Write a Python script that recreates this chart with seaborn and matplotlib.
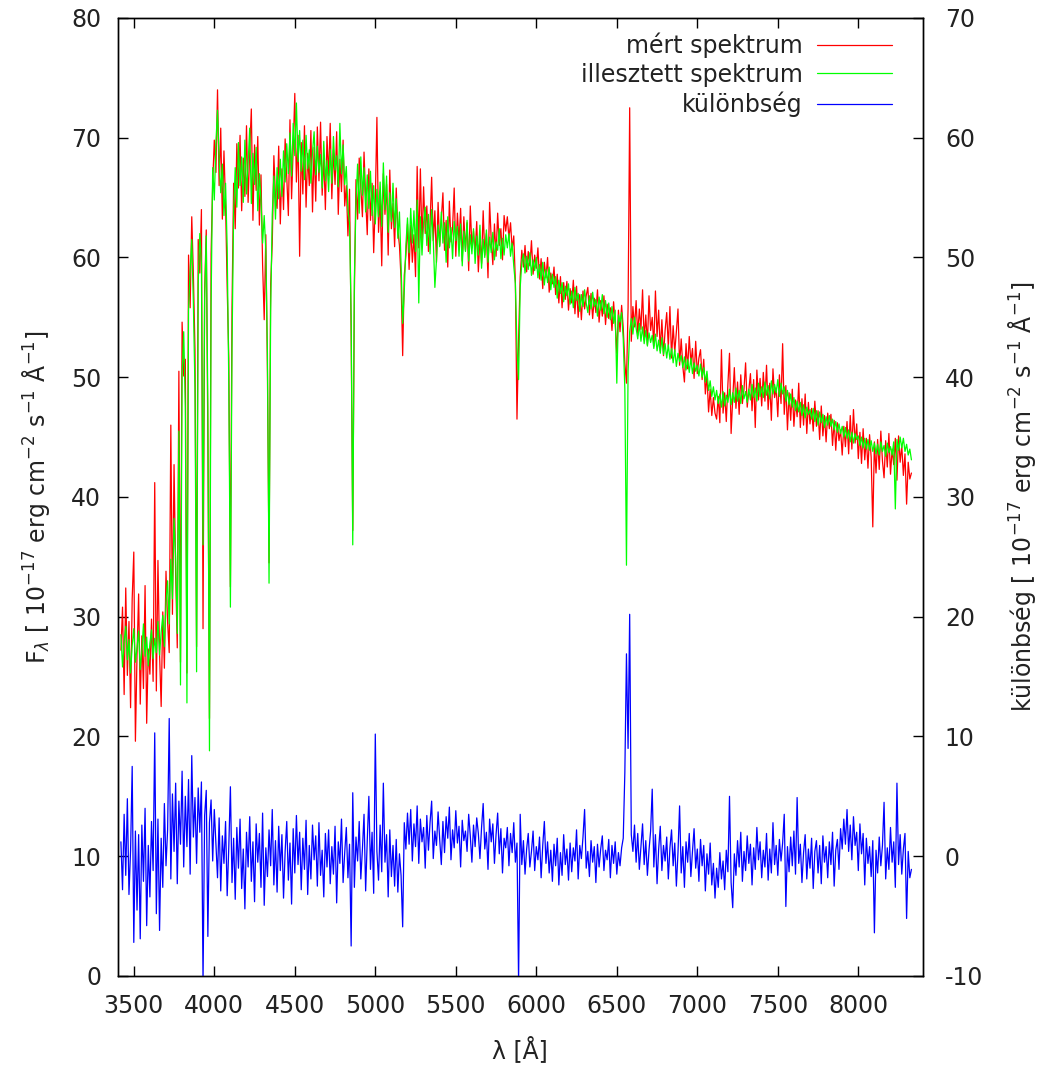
import numpy as np
import matplotlib
matplotlib.use("Agg")
import matplotlib.pyplot as plt
import seaborn as sns

# wavelength grid of the spectrum [A], 10 A sampling, 3420 ... 8330
wavelength = np.arange(3420, 8331, 10)

# measured spectrum (red), 10 values per row, row k starts at 3420 + 100*k
measured = [
    27.2, 30.8, 23.5, 32.4, 25.1, 29.6, 22.4, 31.5, 35.4, 19.6,
    26.8, 31.9, 22.7, 28.4, 24.0, 32.6, 21.1, 27.3, 25.2, 29.8,
    24.6, 41.2, 23.8, 34.7, 26.9, 22.5, 30.4, 25.7, 33.8, 29.5,
    27.0, 46.0, 30.2, 42.7, 33.5, 27.4, 50.5, 26.2, 54.6, 50.1,
    51.5, 25.3, 60.2, 55.8, 63.4, 58.6, 52.3, 27.5, 61.5, 58.7,
    64.0, 29.0, 57.2, 62.3, 44.8, 21.5, 60.3, 66.2, 69.8, 67.1,
    74.0, 66.0, 70.8, 63.2, 68.9, 64.4, 57.5, 51.6, 32.5, 55.8,
    66.2, 62.4, 69.5, 65.8, 70.2, 63.9, 68.3, 65.1, 71.0, 64.6,
    68.9, 72.4, 63.1, 69.4, 65.6, 70.1, 62.7, 66.9, 59.4, 54.8,
    61.9, 50.4, 34.5, 57.8, 61.2, 68.5, 65.0, 64.1, 69.3, 62.8,
    67.4, 64.0, 69.9, 66.7, 63.5, 71.5, 64.9, 69.1, 73.7, 66.3,
    70.2, 60.1, 69.6, 65.3, 71.0, 64.2, 68.7, 66.0, 70.6, 63.8,
    69.2, 64.7, 70.9, 66.4, 71.3, 65.2, 68.4, 64.0, 70.1, 66.8,
    71.2, 64.9, 69.0, 66.1, 70.5, 63.6, 68.2, 65.5, 69.8, 64.3,
    66.0, 61.8, 65.7, 53.6, 37.2, 57.0, 66.5, 63.2, 68.3, 65.9,
    63.4, 68.8, 65.0, 61.9, 67.4, 63.1, 66.2, 60.4, 64.7, 71.7,
    62.1, 65.2, 59.3, 67.0, 63.6, 66.1, 60.2, 67.3, 62.4, 64.5,
    60.9, 65.8, 62.3, 61.0, 58.2, 51.8, 58.5, 60.2, 62.8, 59.0,
    62.7, 59.6, 61.9, 58.4, 67.6, 60.8, 67.4, 61.1, 65.9, 62.0,
    64.3, 60.5, 62.8, 66.7, 61.4, 63.9, 59.6, 64.6, 61.0, 63.2,
    65.4, 60.6, 63.1, 59.2, 64.7, 61.3, 62.5, 65.8, 60.1, 63.7,
    61.2, 64.1, 59.7, 63.4, 60.6, 62.9, 58.9, 64.3, 60.8, 62.2,
    60.4, 63.0, 58.8, 61.7, 59.5, 63.9, 60.2, 62.0, 58.3, 64.6,
    61.5, 59.4, 62.8, 60.1, 63.7, 61.0, 62.4, 59.8, 63.5, 62.2,
    63.4, 61.6, 62.9, 60.7, 61.8, 58.0, 46.5, 53.2, 58.4, 60.6,
    59.2, 61.0, 58.8, 60.5, 59.3, 61.4, 58.6, 60.2, 59.1, 60.8,
    58.2, 59.9, 57.4, 59.6, 58.3, 60.0, 57.1, 58.7, 57.8, 59.2,
    56.9, 58.6, 56.2, 58.4, 55.8, 57.9, 56.5, 58.0, 55.6, 57.4,
    56.2, 58.1, 55.3, 57.6, 55.0, 56.9, 54.8, 57.2, 55.7, 56.8,
    57.5, 55.2, 57.0, 54.9, 56.6, 55.4, 57.3, 54.6, 56.4, 55.1,
    56.8, 54.4, 56.1, 54.9, 55.8, 53.9, 56.3, 54.5, 52.0, 55.6,
    53.8, 56.0, 54.1, 51.2, 49.5, 55.8, 72.5, 53.0, 55.9, 54.2,
    56.4, 53.5, 55.7, 54.0, 57.3, 53.1, 55.2, 52.7, 56.8, 53.9,
    55.0, 52.6, 57.2, 53.4, 55.6, 52.2, 54.8, 51.8, 53.9, 55.4,
    52.5, 55.9, 51.6, 54.3, 52.1, 53.8, 55.7, 51.0, 53.2, 50.9,
    49.6, 52.8, 50.7, 53.4, 51.2, 52.4, 49.9, 53.0, 50.3, 51.6,
    52.3, 49.8, 51.5, 48.6, 50.2, 47.1, 49.0, 46.8, 48.3, 47.0,
    46.5, 48.4, 46.2, 52.3, 47.0, 48.7, 46.3, 49.4, 52.0, 45.3,
    48.2, 50.8, 47.4, 49.6, 46.9, 50.2, 47.8, 49.0, 51.2, 47.5,
    48.9, 50.3, 47.2, 49.8, 45.8, 50.6, 48.1, 49.9, 47.6, 50.4,
    48.0, 51.0, 47.3, 49.5, 46.4, 50.7, 48.3, 49.1, 46.7, 50.2,
    47.8, 52.8, 46.9, 49.3, 45.6, 48.7, 46.4, 49.0, 45.9, 48.1,
    46.7, 49.5, 45.8, 48.2, 46.0, 48.6, 45.3, 47.9, 46.1, 47.4,
    45.5, 48.0, 45.9, 47.2, 44.8, 47.6, 45.1, 46.8, 44.6, 47.0,
    45.7, 46.9, 44.3, 46.4, 43.9, 46.2, 44.7, 45.6, 43.5, 45.9,
    44.2, 46.3, 43.6, 46.8, 44.0, 47.3, 44.5, 46.1, 43.2, 45.4,
    42.8, 45.7, 43.1, 44.9, 42.4, 45.2, 43.3, 37.5, 44.6, 42.0,
    44.8, 42.3, 45.5, 43.0, 41.6, 44.7, 42.5, 45.3, 41.9, 44.0,
    42.7, 44.9, 41.4, 45.1, 42.9, 44.3, 41.8, 43.6, 39.4, 42.9,
    41.5, 42.0,
]

# fitted model spectrum (green)
fitted = [
    28.5, 25.8, 27.9, 29.2, 26.4, 28.1, 25.3, 27.6, 29.0, 26.2,
    27.4, 28.8, 25.6, 27.1, 29.4, 26.7, 28.3, 25.9, 27.8, 28.9,
    26.5, 28.2, 27.0, 29.6, 26.8, 28.7, 30.1, 27.5, 31.2, 33.0,
    29.4, 34.8, 31.5, 38.2, 35.0, 28.6, 45.5, 24.3, 50.2, 53.8,
    47.5, 22.8, 55.6, 58.9, 61.5, 56.2, 49.0, 25.4, 57.8, 62.0,
    59.5, 36.0, 56.4, 61.8, 47.5, 18.8, 56.0, 67.5, 64.8, 69.6,
    72.3, 68.2, 65.4, 67.8, 63.5, 66.2, 60.8, 49.5, 30.8, 52.4,
    63.8, 67.5, 64.2, 69.6, 66.0, 68.4, 64.6, 69.8, 65.3, 67.9,
    70.8, 64.5, 68.7, 66.1, 69.2, 63.9, 67.0, 64.8, 61.2, 63.5,
    60.5, 52.0, 32.8, 55.5, 63.6, 66.8, 63.2, 67.5, 64.9, 68.2,
    65.1, 68.9, 66.3, 69.5, 67.0, 70.4, 66.8, 71.2, 68.5, 72.9,
    68.0, 70.6, 67.2, 69.8, 66.5, 70.2, 67.4, 69.0, 66.2, 68.8,
    70.5, 66.9, 69.3, 67.1, 68.6, 65.8, 69.7, 66.4, 68.1, 65.5,
    69.0, 66.2, 70.1, 67.3, 68.5, 65.9, 71.2, 67.0, 69.4, 66.1,
    67.6, 64.0, 62.9, 55.0, 36.0, 58.2, 64.6, 67.8, 63.7, 68.4,
    65.2, 67.5, 63.8, 66.9, 64.1, 67.2, 63.5, 66.0, 62.8, 65.7,
    63.4, 66.3, 62.6, 67.9, 64.0, 66.8, 62.1, 65.4, 63.0, 66.2,
    62.5, 64.9, 61.6, 63.8, 59.4, 54.5, 57.2, 61.0, 63.3, 60.4,
    64.1, 61.2, 63.9, 60.5, 64.8, 56.2, 63.4, 60.2, 62.9, 64.2,
    61.0, 63.6, 60.3, 64.0, 61.5, 57.5, 59.8, 62.7, 60.9, 63.8,
    61.2, 62.9, 59.6, 63.4, 60.8, 62.5, 59.9, 63.0, 61.4, 62.6,
    60.1, 62.8, 59.3, 62.2, 60.5, 63.1, 59.7, 61.9, 60.3, 62.4,
    59.5, 61.8, 60.2, 62.7, 59.1, 61.5, 60.0, 62.3, 59.6, 61.7,
    60.4, 62.1, 59.8, 61.3, 60.6, 62.4, 59.9, 61.6, 60.2, 61.9,
    60.8, 62.0, 60.1, 61.2, 59.3, 57.8, 52.5, 49.8, 57.5, 59.6,
    60.3, 58.7, 60.1, 59.0, 60.4, 58.5, 59.8, 58.9, 60.0, 58.3,
    59.4, 58.1, 59.6, 57.7, 59.0, 57.9, 59.2, 57.3, 58.6, 57.5,
    58.4, 56.6, 58.1, 57.0, 57.9, 56.3, 57.6, 56.8, 57.8, 56.1,
    57.2, 55.8, 57.5, 56.4, 57.0, 55.5, 56.9, 55.9, 57.3, 56.2,
    55.4, 56.8, 55.7, 57.1, 55.9, 56.5, 55.1, 56.7, 55.6, 56.9,
    55.3, 56.4, 55.0, 56.2, 54.8, 55.9, 54.5, 55.6, 49.5, 55.2,
    54.6, 55.4, 53.2, 49.0, 34.3, 50.5, 53.8, 54.9, 53.6, 55.0,
    54.1, 53.2, 54.5, 53.0, 54.2, 52.8, 53.9, 52.6, 53.7, 52.9,
    53.5, 52.4, 53.6, 52.2, 53.1, 52.0, 53.3, 51.9, 52.8, 51.6,
    52.7, 51.5, 52.4, 51.2, 52.3, 50.9, 52.0, 51.3, 51.8, 50.8,
    51.7, 50.6, 51.5, 50.4, 51.6, 50.3, 51.2, 50.5, 51.0, 50.1,
    51.1, 50.0, 50.8, 49.6, 50.5, 48.9, 49.7, 48.4, 49.2, 48.1,
    48.9, 47.8, 48.6, 47.5, 48.8, 47.6, 48.5, 47.9, 49.0, 47.7,
    48.7, 47.9, 49.1, 48.0, 48.9, 47.8, 49.3, 48.2, 48.8, 47.9,
    49.0, 48.1, 49.4, 48.3, 49.1, 48.0, 49.5, 48.4, 49.2, 48.3,
    49.6, 48.5, 49.3, 48.2, 49.7, 48.6, 49.4, 48.7, 49.8, 48.4,
    49.5, 48.6, 49.2, 48.0, 48.9, 47.7, 48.6, 47.5, 48.3, 47.2,
    48.0, 47.1, 47.9, 46.8, 47.7, 46.6, 47.5, 46.9, 47.3, 46.5,
    47.4, 46.3, 47.2, 46.0, 47.1, 46.2, 46.9, 45.8, 46.7, 46.0,
    46.8, 45.9, 46.5, 45.6, 46.3, 45.4, 46.1, 45.3, 45.9, 45.0,
    45.8, 44.9, 45.6, 44.6, 45.4, 44.5, 45.3, 44.8, 45.1, 44.3,
    45.0, 44.1, 44.9, 44.0, 44.8, 43.9, 44.7, 43.8, 44.5, 43.6,
    44.4, 43.5, 44.6, 43.8, 44.3, 43.4, 44.5, 43.7, 44.2, 43.5,
    44.6, 39.0, 44.8, 43.9, 45.0, 44.1, 44.9, 43.8, 44.4, 43.5,
    44.0, 43.1,
]

# difference (blue), right-hand axis
difference = [
    1.2, -2.8, 3.5, -1.6, 4.8, -3.2, 0.5, 7.5, -7.2, 2.1,
    -4.5, 1.8, -6.9, 2.6, -2.1, 4.0, -5.8, 0.9, -3.4, 2.9,
    -1.2, 10.3, -4.8, 3.1, -6.2, 1.5, -2.6, 4.4, -0.8, 2.2,
    11.5, -1.9, 5.2, 0.4, 6.1, -2.3, 4.6, 1.0, 7.1, -0.9,
    5.0, 0.8, 6.4, -1.5, 8.4, 1.6, 4.9, -0.6, 5.7, 2.0,
    6.2, -10.5, 3.4, 5.5, -6.7, 2.8, 4.7, -0.4, 3.9, 1.1,
    -1.8, 3.2, -2.9, 1.7, -0.6, 2.9, -3.3, 0.8, 5.8, -2.2,
    1.5, -3.6, 2.4, -1.0, 3.1, -2.7, 0.6, -4.4, 2.0, -0.9,
    3.3, -2.1, 1.2, -3.8, 2.7, -0.5, 1.9, -2.6, 3.6, -4.1,
    0.7, -1.7, 2.2, -0.8, 3.9, -2.4, 1.3, -3.0, 2.5, -1.2,
    1.8, -3.5, 0.4, 2.9, -2.0, 1.1, -4.0, 2.3, -1.4, 3.4,
    -0.7, 2.0, -2.8, 1.5, -1.1, 3.0, -3.2, 0.9, -1.9, 2.6,
    -0.3, 1.7, -2.5, 2.8, -1.6, 0.5, -3.4, 1.9, -0.9, 2.2,
    -2.3, 0.8, -1.5, 2.5, -3.9, 1.2, -0.6, 3.1, -2.2, 0.3,
    2.4, -1.8, 1.0, -7.5, 5.3, -2.6, 1.6, -0.4, 2.9, -1.9,
    0.6, 3.5, -2.9, 1.3, 5.0, -1.1, 2.0, -3.1, 10.2, 0.4,
    -2.0, 2.6, -1.3, 6.1, -0.5, 1.8, -3.4, 2.2, -1.7, 0.9,
    -2.5, 1.4, -3.0, 0.2, -1.6, -5.9, 2.8, 0.6, 3.6, 1.0,
    3.9, -0.4, 2.7, 0.8, 4.2, -0.6, 3.1, 1.2, 2.4, -1.0,
    3.4, 0.5, 2.8, 4.6, -0.2, 2.1, 0.9, 3.7, 1.4, -0.7,
    2.9, 0.3, 3.3, 1.5, 4.1, -0.3, 2.2, 0.7, 3.8, 1.1,
    2.5, -0.9, 3.0, 1.3, 2.1, 0.4, 3.5, 1.7, -0.5, 2.6,
    0.8, 3.2, 1.9, -0.2, 2.4, 4.4, 0.6, 2.0, -1.1, 3.1,
    1.2, 2.7, -0.6, 1.8, 3.6, 0.2, 2.3, -1.4, 1.5, 0.7,
    2.4, -0.8, 1.9, 0.3, 2.8, -0.5, 1.1, -10.5, 3.5, -0.7,
    1.3, -1.5, 0.6, 1.9, -0.9, 0.4, 2.1, -1.2, 0.8, -0.3,
    1.6, -1.8, 0.9, 2.9, -0.6, 1.2, -1.4, 0.5, -2.1, 1.0,
    -0.8, 1.5, -2.4, 0.3, -1.6, 1.8, -0.7, 0.6, -2.0, 1.1,
    -1.3, 0.7, -0.4, 2.2, -1.9, 0.9, -0.2, 1.6, 3.9, -1.0,
    0.4, -1.7, 1.3, -0.5, 0.8, -2.2, 1.0, -0.9, 0.6, 1.7,
    -1.2, 0.5, -0.3, 1.4, -1.8, 0.9, -0.6, 1.2, -1.5, 0.3,
    -0.8, 0.7, 1.5, 7.0, 16.9, 9.0, 20.2, 1.8, 0.4, 2.6,
    -0.5, 1.9, -1.1, 0.8, 2.7, -0.7, 1.3, -1.6, 0.5, 2.1,
    5.6, -0.9, 1.8, -2.3, 0.6, 2.5, -1.2, 0.9, -0.4, 1.6,
    -1.9, 0.7, 2.2, -0.8, 1.1, -2.5, 0.3, 4.2, -1.4, 0.8,
    -2.6, 1.2, -0.5, 1.9, -1.7, 0.4, 2.3, -1.0, 0.6, -2.1,
    1.4, -0.8, 0.9, -2.9, 0.2, -1.5, 1.1, -2.4, -0.6, -3.5,
    -1.0, -2.6, 0.3, -1.9, -0.4, -2.8, 0.5, -1.3, 5.0, -2.2,
    -4.3, 0.2, -1.6, 1.3, -0.9, 2.0, -2.1, 0.4, -1.2, 1.7,
    -0.6, 1.0, -2.4, 0.7, -1.1, 2.4, -0.3, 1.2, -1.8, 0.5,
    -0.9, 1.9, -2.0, 0.6, -1.4, 2.8, -0.7, 0.9, -1.6, 1.4,
    -0.4, 1.1, 3.5, -4.2, 0.8, -1.3, 1.6, -0.8, 2.1, -1.5,
    4.9, -0.6, 1.0, -2.2, 0.3, 1.8, -1.9, 0.6, -1.0, 1.5,
    -2.7, 0.4, 1.3, -1.4, 0.9, -2.3, 1.7, -0.5, 0.8, -1.8,
    1.2, -0.7, 2.0, -2.5, 0.5, 1.4, -1.1, 2.3, 0.6, 3.1,
    1.0, 3.9, 0.4, 2.6, -0.3, 3.3, 0.9, 2.0, -1.2, 2.7,
    0.2, 1.9, -2.4, 1.5, -0.6, 0.8, -1.7, 1.3, -6.4, 0.5,
    -1.4, 1.6, -0.8, 0.9, 4.5, -1.9, 0.7, -1.1, 2.4, -0.5,
    1.2, -2.6, 6.1, -0.7, 1.8, -1.5, 0.6, 1.9, -5.2, 0.4,
    -1.8, -1.1,
]

x_ticks = [3500, 4000, 4500, 5000, 5500, 6000, 6500, 7000, 7500, 8000]
y_ticks = [0, 10, 20, 30, 40, 50, 60, 70, 80]
y2_ticks = [-10, 0, 10, 20, 30, 40, 50, 60, 70]

sns.set_theme(style="white")
plt.rcParams["font.family"] = ["DejaVu Sans"]
plt.rcParams["mathtext.fontset"] = "dejavusans"
plt.rcParams["axes.unicode_minus"] = False
fs = 17
txt = "#222222"

fig = plt.figure(figsize=(10.49, 10.70), dpi=100)
ax = fig.add_axes([0.1122, 0.0879, 0.7674, 0.8953])
ax2 = ax.twinx()

sns.lineplot(x=wavelength, y=measured, ax=ax, color="#ff0000", linewidth=0.9, label="mért spektrum")
sns.lineplot(x=wavelength, y=fitted, ax=ax, color="#00ff00", linewidth=0.9, label="illesztett spektrum")
sns.lineplot(x=wavelength, y=difference, ax=ax2, color="#0000ff", linewidth=0.9, label="különbség")

ax.set_xlim(3400, 8400)
ax.set_ylim(0, 80)
ax2.set_ylim(-10, 70)
ax.set_xticks(x_ticks)
ax.set_yticks(y_ticks)
ax2.set_yticks(y2_ticks)

for a in (ax, ax2):
    for s in a.spines.values():
        s.set_color("black")
        s.set_linewidth(1.0)

ax.tick_params(axis="x", direction="in", length=7, width=1, top=True, bottom=True,
               labelsize=fs, pad=13, color="black", labelcolor=txt)
ax.tick_params(axis="y", direction="in", length=7, width=1, left=True, right=False,
               labelsize=fs, pad=12, color="black", labelcolor=txt)
ax2.tick_params(axis="y", direction="in", length=7, width=1, right=True, left=False,
                labelsize=fs, pad=16, color="black", labelcolor=txt)

ax.set_xlabel("λ [Å]", fontsize=fs, color=txt)
ax.xaxis.set_label_coords(0.5, -0.063)
ax.set_ylabel(r"F$_{\lambda}$ [ 10$^{-17}$ erg cm$^{-2}$ s$^{-1}$ Å$^{-1}$]", fontsize=fs, color=txt)
ax.yaxis.set_label_coords(-0.082, 0.5)
ax2.set_ylabel(r"különbség [ 10$^{-17}$ erg cm$^{-2}$ s$^{-1}$ Å$^{-1}$]", fontsize=fs, color=txt)
ax2.yaxis.set_label_coords(1.103, 0.5)

h1, l1 = ax.get_legend_handles_labels()
h2, l2 = ax2.get_legend_handles_labels()
if ax.get_legend() is not None:
    ax.get_legend().remove()
leg = ax2.legend(h1 + h2, l1 + l2, loc="upper right", bbox_to_anchor=(0.962, 0.985),
                 frameon=False, markerfirst=False, handlelength=3.2, handletextpad=0.6,
                 labelspacing=0.2, borderaxespad=0, borderpad=0, fontsize=fs)
for t in leg.get_texts():
    t.set_color(txt)

fig.savefig("out.png", dpi=100)
